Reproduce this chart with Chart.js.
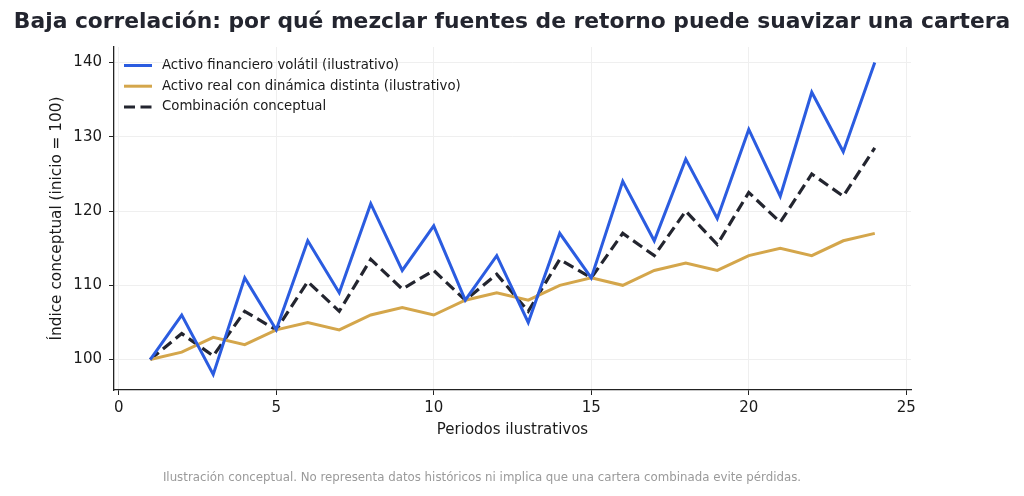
<!DOCTYPE html>
<html><head><meta charset="utf-8">
<script src="https://cdn.jsdelivr.net/npm/chart.js@4.4.1/dist/chart.umd.min.js"></script>
<style>html,body{margin:0;padding:0;background:#fff}#wrap{width:1024px;height:496px;position:relative}</style>
</head><body><div id="wrap"><canvas id="c" width="1024" height="496"></canvas></div>
<script>
const periods = [1,2,3,4,5,6,7,8,9,10,11,12,13,14,15,16,17,18,19,20,21,22,23,24];
const volatil = [100,106,98,111,104,116,109,121,112,118,108,114,105,117,111,124,116,127,119,131,122,136,128,140];
const real = [100,101,103,102,104,105,104,106,107,106,108,109,108,110,111,110,112,113,112,114,115,114,116,117];
const combinada = [100,103.5,100.5,106.5,104,110.5,106.5,113.5,109.5,112,108,111.5,106.5,113.5,111,117,114,120,115.5,122.5,118.5,125,122,128.5];
const labels = ['Activo financiero volátil (ilustrativo)','Activo real con dinámica distinta (ilustrativo)','Combinación conceptual'];
const xTicks = [0,5,10,15,20,25];
const yTicks = [100,110,120,130,140];
const titleText = 'Baja correlación: por qué mezclar fuentes de retorno puede suavizar una cartera';
const footerText = 'Ilustración conceptual. No representa datos históricos ni implica que una cartera combinada evite pérdidas.';

const FONT = 'DejaVu Sans';
const pts = arr => periods.map((p,i)=>({x:p,y:arr[i]}));

const overlay = {
  id:'overlay',
  afterDraw(chart){
    const ctx = chart.ctx;
    ctx.save();
    ctx.fillStyle = '#23252f';
    ctx.font = 'bold 21.8px "'+FONT+'"';
    ctx.textAlign = 'center'; ctx.textBaseline = 'middle';
    ctx.fillText(titleText, 512, 22);
    ctx.fillStyle = '#9a9a9a';
    ctx.font = '11.8px "'+FONT+'"';
    ctx.fillText(footerText, 482, 478);
    // legend
    ctx.textAlign = 'left';
    ctx.font = '13.3px "'+FONT+'"';
    chart.data.datasets.forEach((ds,i)=>{
      const y = 65.5 + i*20.7;
      ctx.strokeStyle = ds.borderColor;
      ctx.lineWidth = 3;
      ctx.setLineDash(ds.borderDash || []);
      ctx.beginPath(); ctx.moveTo(124,y); ctx.lineTo(152,y); ctx.stroke();
      ctx.setLineDash([]);
      ctx.fillStyle = '#1a1a1a';
      ctx.fillText(ds.label, 162, y);
    });
    ctx.restore();
  }
};

new Chart(document.getElementById('c'), {
  type:'line',
  data:{datasets:[
    {label:labels[0], data:pts(volatil), borderColor:'#2b5ce0', borderWidth:3, pointRadius:0, tension:0, fill:false},
    {label:labels[1], data:pts(real), borderColor:'#d4a64b', borderWidth:3, pointRadius:0, tension:0, fill:false},
    {label:labels[2], data:pts(combinada), borderColor:'#23252f', borderWidth:3.2, borderDash:[11,5.5], pointRadius:0, tension:0, fill:false}
  ]},
  options:{
    responsive:false, animation:false, devicePixelRatio:1,
    layout:{padding:{left:48,right:113,top:47,bottom:57}},
    plugins:{legend:{display:false}, title:{display:false}, tooltip:{enabled:false}},
    scales:{
      x:{type:'linear', min:-0.15, max:25.15,
        afterBuildTicks(s){ s.ticks = xTicks.map(v=>({value:v})); },
        afterFit(s){ s.height = 49; },
        grid:{color:'#efefef', lineWidth:1, tickColor:'#222', tickLength:5, drawOnChartArea:true},
        border:{display:true, color:'#222', width:1.3},
        ticks:{color:'#1a1a1a', font:{family:FONT, size:15}, padding:4, maxRotation:0},
        title:{display:true, text:'Periodos ilustrativos', color:'#1a1a1a', font:{family:FONT, size:15}, padding:{top:0,bottom:0}}
      },
      y:{type:'linear', min:95.9, max:142.1,
        afterBuildTicks(s){ s.ticks = yTicks.map(v=>({value:v})); },
        afterFit(s){ s.width = 66; },
        grid:{color:'#efefef', lineWidth:1, tickColor:'#222', tickLength:5},
        border:{display:true, color:'#222', width:1.3},
        ticks:{color:'#1a1a1a', font:{family:FONT, size:15}, padding:7},
        title:{display:true, text:'Índice conceptual (inicio = 100)', color:'#1a1a1a', font:{family:FONT, size:15.3}, padding:{top:0,bottom:0}}
      }
    }
  },
  plugins:[overlay]
});
</script></body></html>
